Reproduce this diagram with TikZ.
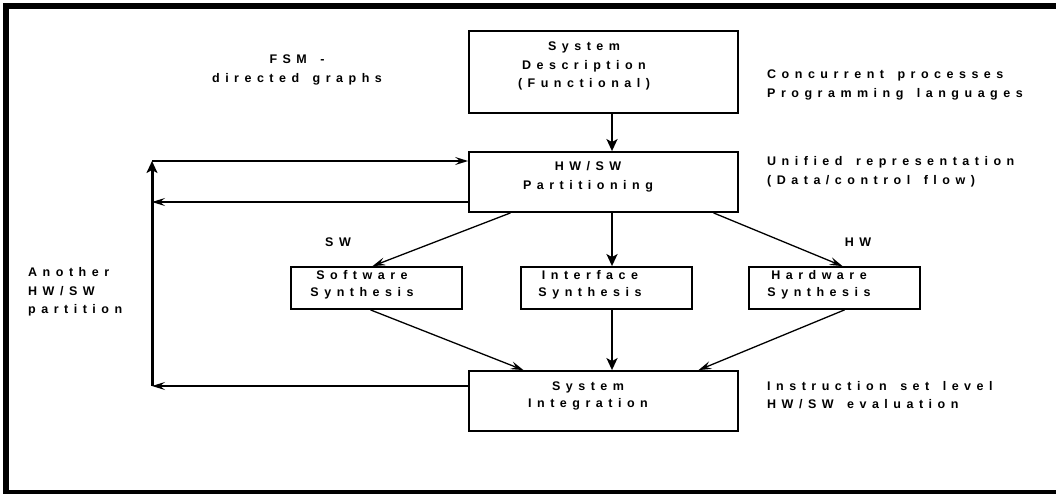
\documentclass[tikz,border=0pt]{standalone}
\usepackage{fontspec}
\setmainfont{Liberation Sans}[LetterSpace=44,WordSpace=1.5]
\usetikzlibrary{arrows.meta}
\newcommand\diagfont{\fontsize{12.5}{18.5}\selectfont\bfseries}
\newcommand\tightfont{\fontsize{12.5}{16.5}\selectfont\bfseries}
\begin{document}
\begin{tikzpicture}[x=1pt,y=-1pt,
  every node/.style={font=\diagfont},
  stagebox/.style={draw,line width=1.8pt,inner sep=0pt},
  bigbox/.style={stagebox,minimum width=269pt,minimum height=60pt},
  smallbox/.style={stagebox,minimum width=171pt,minimum height=42pt},
  lbl/.style={align=center,inner sep=0pt},
  tightlbl/.style={lbl,font=\tightfont},
  note/.style={align=left,anchor=west,inner sep=0pt},
  arr/.style={line width=1.3pt,-{Stealth[length=13pt,width=8pt,inset=5pt]}},
  thickarr/.style={line width=2.6pt,-{Stealth[length=12pt,width=11pt,inset=3pt]}}]
\useasboundingbox (0,0) rectangle (1056,495);
% page frame
\fill (3,3) rectangle (1056,9);
\fill (3,3) rectangle (9,494);
\fill (3,490) rectangle (1056,494);

% stages
\node[bigbox,minimum height=82pt] (sd) at (603.5,72) {};
\node[lbl] (sdt) at (584,66) {System\\Description\\(Functional)};
\node[bigbox] (hs) at (603.5,182) {};
\node[lbl] (hst) at (588,177) {HW/SW\\Partitioning};
\node[smallbox] (sw) at (376.5,288) {};
\node[tightlbl] (swt) at (362,285) {Software\\Synthesis};
\node[smallbox] (if) at (606.5,288) {};
\node[tightlbl] (ift) at (590,285) {Interface\\Synthesis};
\node[smallbox] (hw) at (834.5,288) {};
\node[tightlbl] (hwt) at (819,285) {Hardware\\Synthesis};
\node[bigbox] (si) at (603.5,401) {};
\node[tightlbl] (sit) at (588,396) {System\\Integration};

% side notes
\node[lbl] (fsm) at (297,70) {FSM -\\directed graphs};
\node[note] (cp) at (767,85) {Concurrent processes\\Programming languages};
\node[note] (ur) at (767,172) {Unified representation\\(Data/control flow)};
\node[note] (is) at (767,395) {Instruction set level\\HW/SW evaluation};
\node[note] (an) at (28,292) {Another\\HW/SW\\partition};
\node[lbl] (swl) at (338,242) {SW};
\node[lbl] (hwl) at (858,242) {HW};

% flow
\draw[thickarr] (sd.south -| 612,0) -- (hs.north -| 612,0);
\draw[arr] ([xshift=-93pt]hs.south) -- ([xshift=-4pt]sw.north);
\draw[thickarr] (hs.south -| 612,0) -- (if.north -| 612,0);
\draw[arr] ([xshift=110pt]hs.south) -- ([xshift=8pt]hw.north);
\draw[arr] ([xshift=-6pt]sw.south) -- ([xshift=-80pt]si.north);
\draw[thickarr] (if.south -| 612,0) -- (si.north -| 612,0);
\draw[arr] ([xshift=10pt]hw.south) -- ([xshift=95pt]si.north);

% feedback loop
\coordinate (lb) at (152,386);
\coordinate (lt) at (152,161);
\coordinate (lm) at (152,202);
\draw[arr] (si.west |- lb) -- (lb);
\draw[line width=3pt,-{Stealth[length=12pt,width=11pt,inset=3pt]}] (lb) -- (lt);
\draw[arr] (lt) -- (hs.west |- lt);
\draw[arr] (hs.west |- lm) -- (lm);
\end{tikzpicture}
\end{document}
